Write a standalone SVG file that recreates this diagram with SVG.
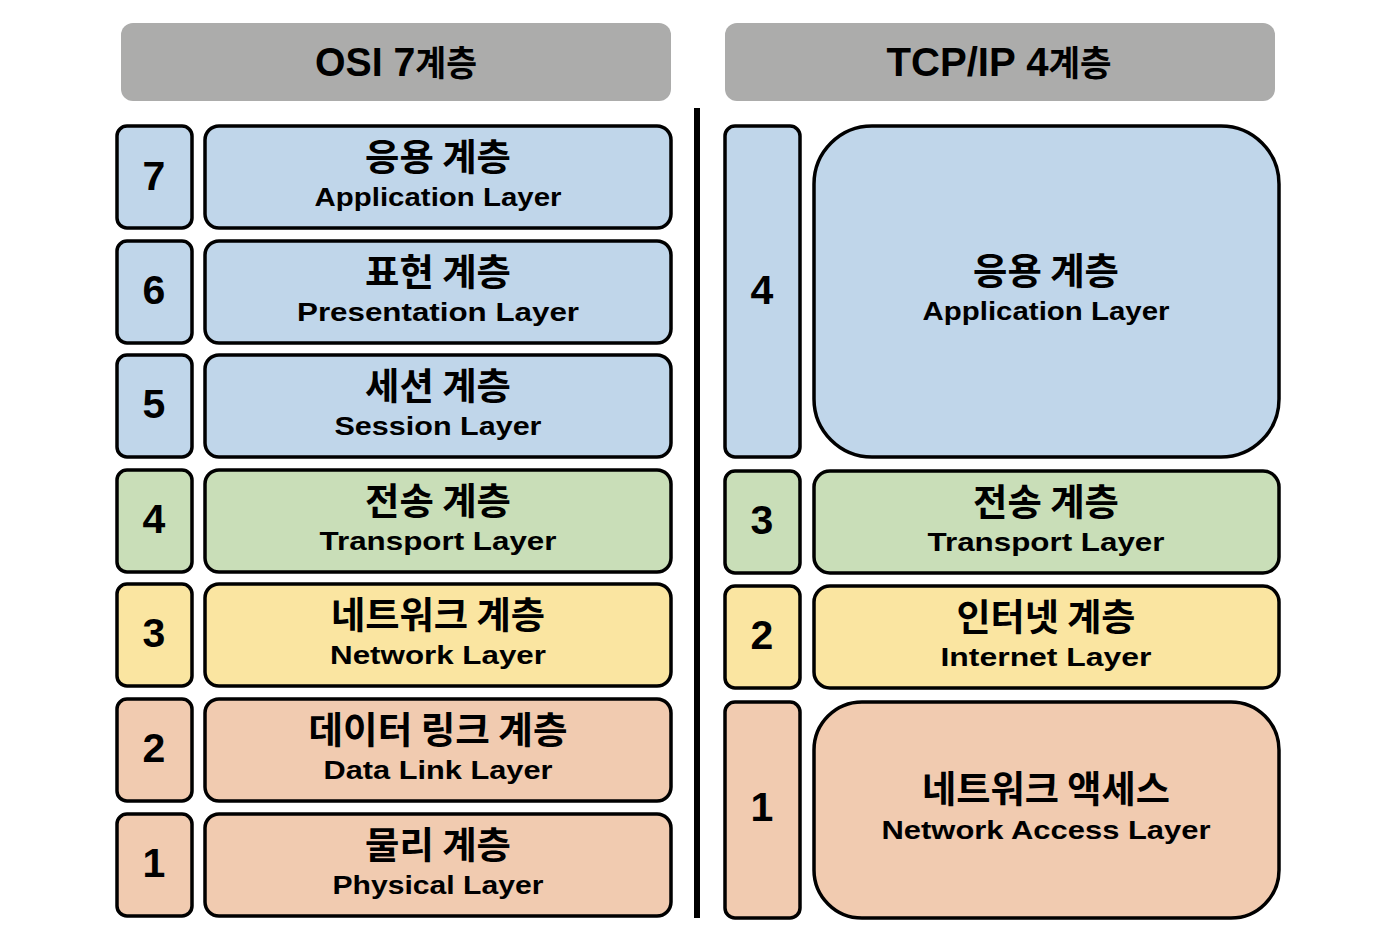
<svg xmlns="http://www.w3.org/2000/svg" width="1376" height="934" viewBox="0 0 1376 934">
<style>
.hdr{fill:#acacab;}
.box{stroke:#000;stroke-width:3.5;}
.blue{fill:#c0d6ea;}
.green{fill:#c9deb8;}
.yellow{fill:#fae5a1;}
.peach{fill:#f1cbb0;}
text{font-weight:700;fill:#000;text-anchor:middle;}
.ko{font-family:"Noto Sans CJK KR","Noto Sans",sans-serif;font-size:37px;}
.en{font-family:"Liberation Sans","Noto Sans",sans-serif;font-size:26px;}
.num{font-family:"Liberation Sans","Noto Sans",sans-serif;font-size:41px;}
.title{font-family:"Liberation Sans","Noto Sans CJK KR",sans-serif;font-size:41px;}
.tko{font-family:"Noto Sans CJK KR",sans-serif;font-size:35px;}
</style>
<rect width="1376" height="934" fill="#fff"/>
<g id="hdr-osi"><rect class="hdr" x="121" y="23" width="550" height="78" rx="12"/><text class="title" x="396" y="76" textLength="162" lengthAdjust="spacingAndGlyphs">OSI 7<tspan class="tko">계층</tspan></text></g>
<g id="hdr-tcp"><rect class="hdr" x="725" y="23" width="550" height="78" rx="12"/><text class="title" x="999" y="76" textLength="225" lengthAdjust="spacingAndGlyphs">TCP/IP 4<tspan class="tko">계층</tspan></text></g>
<g id="connectors"><line x1="697" y1="108" x2="697" y2="918" stroke="#000" stroke-width="6"/></g>

<g id="osi7"><rect class="box blue" x="117" y="126" width="75" height="102" rx="10"/><text class="num" x="154" y="190">7</text>
<rect class="box blue" x="205" y="126" width="466" height="102" rx="14"/><text class="ko" x="438" y="171" textLength="146" lengthAdjust="spacingAndGlyphs">응용 계층</text><text class="en" x="438" y="206" textLength="247" lengthAdjust="spacingAndGlyphs">Application Layer</text></g>
<g id="osi6"><rect class="box blue" x="117" y="241" width="75" height="102" rx="10"/><text class="num" x="154" y="304">6</text>
<rect class="box blue" x="205" y="241" width="466" height="102" rx="14"/><text class="ko" x="438" y="286" textLength="146" lengthAdjust="spacingAndGlyphs">표현 계층</text><text class="en" x="438" y="321" textLength="282" lengthAdjust="spacingAndGlyphs">Presentation Layer</text></g>
<g id="osi5"><rect class="box blue" x="117" y="355" width="75" height="102" rx="10"/><text class="num" x="154" y="418">5</text>
<rect class="box blue" x="205" y="355" width="466" height="102" rx="14"/><text class="ko" x="438" y="400" textLength="146" lengthAdjust="spacingAndGlyphs">세션 계층</text><text class="en" x="438" y="435" textLength="207" lengthAdjust="spacingAndGlyphs">Session Layer</text></g>
<g id="osi4"><rect class="box green" x="117" y="470" width="75" height="102" rx="10"/><text class="num" x="154" y="533">4</text>
<rect class="box green" x="205" y="470" width="466" height="102" rx="14"/><text class="ko" x="438" y="515" textLength="146" lengthAdjust="spacingAndGlyphs">전송 계층</text><text class="en" x="438" y="550" textLength="237" lengthAdjust="spacingAndGlyphs">Transport Layer</text></g>
<g id="osi3"><rect class="box yellow" x="117" y="584" width="75" height="102" rx="10"/><text class="num" x="154" y="647">3</text>
<rect class="box yellow" x="205" y="584" width="466" height="102" rx="14"/><text class="ko" x="438" y="629" textLength="214" lengthAdjust="spacingAndGlyphs">네트워크 계층</text><text class="en" x="438" y="664" textLength="216" lengthAdjust="spacingAndGlyphs">Network Layer</text></g>
<g id="osi2"><rect class="box peach" x="117" y="699" width="75" height="102" rx="10"/><text class="num" x="154" y="762">2</text>
<rect class="box peach" x="205" y="699" width="466" height="102" rx="14"/><text class="ko" x="438" y="744" textLength="259" lengthAdjust="spacingAndGlyphs">데이터 링크 계층</text><text class="en" x="438" y="779" textLength="229" lengthAdjust="spacingAndGlyphs">Data Link Layer</text></g>
<g id="osi1"><rect class="box peach" x="117" y="814" width="75" height="102" rx="10"/><text class="num" x="154" y="877">1</text>
<rect class="box peach" x="205" y="814" width="466" height="102" rx="14"/><text class="ko" x="438" y="859" textLength="146" lengthAdjust="spacingAndGlyphs">물리 계층</text><text class="en" x="438" y="894" textLength="211" lengthAdjust="spacingAndGlyphs">Physical Layer</text></g>

<g id="tcp4"><rect class="box blue" x="725" y="126" width="75" height="331" rx="10"/><text class="num" x="762" y="304">4</text>
<rect class="box blue" x="814" y="126" width="465" height="331" rx="58"/><text class="ko" x="1046" y="285" textLength="146" lengthAdjust="spacingAndGlyphs">응용 계층</text><text class="en" x="1046" y="320" textLength="247" lengthAdjust="spacingAndGlyphs">Application Layer</text></g>
<g id="tcp3"><rect class="box green" x="725" y="471" width="75" height="102" rx="10"/><text class="num" x="762" y="534">3</text>
<rect class="box green" x="814" y="471" width="465" height="102" rx="16"/><text class="ko" x="1046" y="516" textLength="146" lengthAdjust="spacingAndGlyphs">전송 계층</text><text class="en" x="1046" y="551" textLength="237" lengthAdjust="spacingAndGlyphs">Transport Layer</text></g>
<g id="tcp2"><rect class="box yellow" x="725" y="586" width="75" height="102" rx="10"/><text class="num" x="762" y="649">2</text>
<rect class="box yellow" x="814" y="586" width="465" height="102" rx="16"/><text class="ko" x="1046" y="631" textLength="179" lengthAdjust="spacingAndGlyphs">인터넷 계층</text><text class="en" x="1046" y="666" textLength="211" lengthAdjust="spacingAndGlyphs">Internet Layer</text></g>
<g id="tcp1"><rect class="box peach" x="725" y="702" width="75" height="216" rx="10"/><text class="num" x="762" y="821">1</text>
<rect class="box peach" x="814" y="702" width="465" height="216" rx="48"/><text class="ko" x="1046" y="803" textLength="248" lengthAdjust="spacingAndGlyphs">네트워크 액세스</text><text class="en" x="1046" y="839" textLength="329" lengthAdjust="spacingAndGlyphs">Network Access Layer</text></g>
</svg>
